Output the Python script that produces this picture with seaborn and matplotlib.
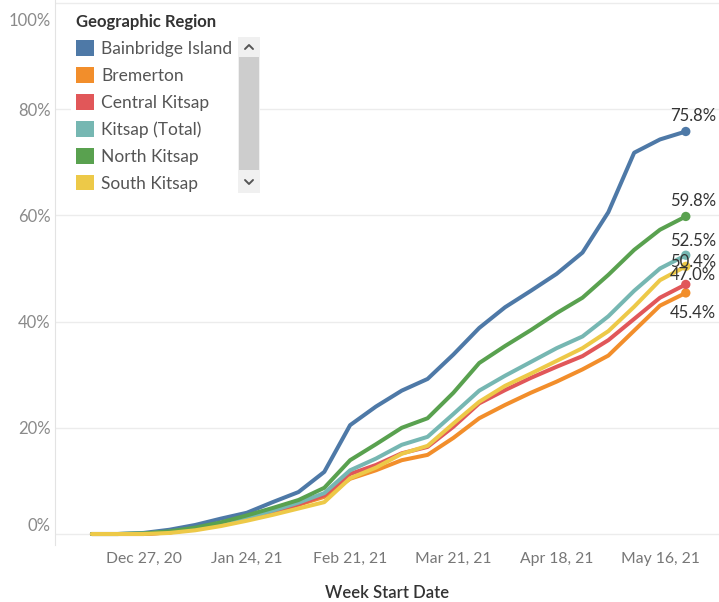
import matplotlib
matplotlib.use('Agg')
import matplotlib.pyplot as plt
import matplotlib.dates as mdates
from matplotlib.lines import Line2D
from matplotlib.patches import Patch, Rectangle
from matplotlib.transforms import ScaledTranslation
import pandas as pd
import seaborn as sns

# weekly cumulative share vaccinated (%)
weeks = [
    '2020-12-13', '2020-12-20', '2020-12-27', '2021-01-03', '2021-01-10', '2021-01-17',
    '2021-01-24', '2021-01-31', '2021-02-07', '2021-02-14', '2021-02-21', '2021-02-28',
    '2021-03-07', '2021-03-14', '2021-03-21', '2021-03-28', '2021-04-04', '2021-04-11',
    '2021-04-18', '2021-04-25', '2021-05-02', '2021-05-09', '2021-05-16', '2021-05-23',
]
regions = ['Bainbridge Island', 'Bremerton', 'Central Kitsap', 'Kitsap (Total)', 'North Kitsap', 'South Kitsap']

bainbridge = [0.0, 0.0, 0.2, 0.8, 1.7, 2.9, 4.0, 6.0, 7.9, 11.7, 20.5, 24.0,
              27.0, 29.2, 33.8, 38.8, 42.7, 45.8, 49.0, 53.0, 60.6, 71.8, 74.3, 75.8]
bremerton = [0.0, 0.0, 0.0, 0.3, 0.9, 1.8, 3.0, 4.0, 5.5, 7.0, 10.4, 12.0,
             13.9, 14.9, 18.1, 21.8, 24.3, 26.6, 28.7, 31.0, 33.6, 38.3, 43.0, 45.4]
central = [0.0, 0.0, 0.0, 0.3, 0.9, 1.8, 2.9, 4.1, 5.6, 7.3, 11.3, 13.0,
           15.2, 16.4, 20.2, 24.6, 27.1, 29.4, 31.5, 33.5, 36.5, 40.5, 44.5, 47.0]
kitsap_total = [0.0, 0.0, 0.1, 0.4, 1.0, 1.9, 3.1, 4.4, 5.9, 7.7, 12.0, 14.2,
                16.8, 18.3, 22.6, 27.0, 29.8, 32.4, 35.0, 37.2, 41.0, 45.8, 50.0, 52.5]
north = [0.0, 0.0, 0.1, 0.5, 1.2, 2.2, 3.5, 4.9, 6.4, 8.7, 13.9, 16.9,
         20.0, 21.8, 26.6, 32.2, 35.4, 38.4, 41.6, 44.5, 48.8, 53.5, 57.3, 59.8]
south = [0.0, 0.0, 0.0, 0.2, 0.7, 1.5, 2.5, 3.6, 4.8, 6.0, 10.5, 12.5,
         15.1, 16.6, 20.8, 24.9, 27.9, 30.2, 32.6, 35.0, 38.2, 42.8, 47.8, 50.4]

tick_dates = ['2020-12-27', '2021-01-24', '2021-02-21', '2021-03-21', '2021-04-18', '2021-05-16']
tick_labels = ['Dec 27, 20', 'Jan 24, 21', 'Feb 21, 21', 'Mar 21, 21', 'Apr 18, 21', 'May 16, 21']
y_ticks = [0, 20, 40, 60, 80, 100]

colors = {
    'Bainbridge Island': '#4e79a7',
    'Bremerton': '#f28e2b',
    'Central Kitsap': '#e15759',
    'Kitsap (Total)': '#76b7b2',
    'North Kitsap': '#59a14f',
    'South Kitsap': '#edc948',
}
# vertical nudge (points) of the end labels, as Tableau staggers them
label_dy = {
    'Bainbridge Island': 11, 'North Kitsap': 11, 'Kitsap (Total)': 10,
    'South Kitsap': 3, 'Central Kitsap': 6.5, 'Bremerton': -14.5,
}

series = [bainbridge, bremerton, central, kitsap_total, north, south]
df = pd.concat(
    [pd.DataFrame({'week': pd.to_datetime(weeks), 'pct': vals, 'region': r})
     for r, vals in zip(regions, series)],
    ignore_index=True,
)
last = df.groupby('region').tail(1)

sns.set_style('white')
plt.rcParams['font.family'] = ['Lato', 'DejaVu Sans']

fig = plt.figure(figsize=(7.19, 6.02), dpi=100)
ax = fig.add_axes([55 / 719, 57 / 602, 664 / 719, 545 / 602])

sns.lineplot(data=df, x='week', y='pct', hue='region', hue_order=regions,
             palette=colors, linewidth=2.9, legend=False, ax=ax, zorder=3)
sns.scatterplot(data=last, x='week', y='pct', hue='region', hue_order=regions,
                palette=colors, s=45, edgecolor='none', legend=False, ax=ax, zorder=4)

for _, row in last.iterrows():
    ax.annotate(f"{row['pct']:.1f}%", xy=(row['week'], row['pct']),
                xytext=(5, label_dy[row['region']]), textcoords='offset points',
                ha='center', va='center', fontsize=12, color='#333333', zorder=5)

start = mdates.date2num(pd.Timestamp(weeks[0]))
ax.set_xlim(start - 10, start + 170)
ax.set_ylim(-2.07, 100.56)

ax.set_yticks(y_ticks)
ax.set_yticklabels([f'{v}%' for v in y_ticks])
ax.tick_params(axis='y', length=0, pad=3, labelsize=12, labelcolor='#8a8a8a')
ytl = ax.get_yticklabels()
ytl[0].set_va('bottom')
ytl[-1].set_va('top')
ytl[-1].set_transform(ytl[-1].get_transform() + ScaledTranslation(0, -7 / 72, fig.dpi_scale_trans))

ax.set_xticks(pd.to_datetime(tick_dates))
ax.set_xticklabels(tick_labels)
ax.tick_params(axis='x', length=4, width=0.8, color='#d9d9d9', pad=1,
               labelsize=11.3, labelcolor='#777777')

ax.grid(axis='y', color='#ececec', linewidth=1)
ax.grid(axis='x', visible=False)
for side in ['top', 'right', 'bottom']:
    ax.spines[side].set_visible(False)
ax.spines['left'].set_color('#e3e3e3')

ax.set_ylabel('')
ax.set_xlabel('Week Start Date', fontsize=12, color='#333333',
              fontweight='semibold', labelpad=14)

handles = [Patch(facecolor=colors[r], edgecolor='none', label=r) for r in regions]
leg = ax.legend(handles=handles, title='Geographic Region', loc='upper left',
                bbox_to_anchor=(0.011, 1.0), frameon=True, fontsize=12.5,
                title_fontsize=12, handlelength=1.0, handleheight=1.0,
                handletextpad=0.45, labelspacing=0.59, borderpad=0.3,
                alignment='left')
leg.get_frame().set_facecolor('white')
leg.get_frame().set_edgecolor('none')
leg.get_frame().set_alpha(1)
leg.get_title().set_fontweight('bold')
leg.get_title().set_color('#333333')
for t in leg.get_texts():
    t.set_color('#555555')
leg.set_zorder(6)


# legend scrollbar (Tableau widget)
def fx(px):
    return px / 719


def fy(py):
    return 1 - py / 602


fig.add_artist(Rectangle((fx(238), fy(193)), fx(260) - fx(238), fy(37) - fy(193),
                         transform=fig.transFigure, facecolor='#f0f0f0',
                         edgecolor='none', zorder=7))
fig.add_artist(Rectangle((fx(239), fy(170)), fx(259) - fx(239), fy(57) - fy(170),
                         transform=fig.transFigure, facecolor='#cdcdcd',
                         edgecolor='none', zorder=8))
fig.add_artist(Line2D([fx(245), fx(249), fx(253)], [fy(49), fy(45), fy(49)],
                      transform=fig.transFigure, color='#555555', lw=1.4, zorder=9))
fig.add_artist(Line2D([fx(245), fx(249), fx(253)], [fy(180), fy(184), fy(180)],
                      transform=fig.transFigure, color='#555555', lw=1.4, zorder=9))

fig.savefig('out.png', dpi=100)
